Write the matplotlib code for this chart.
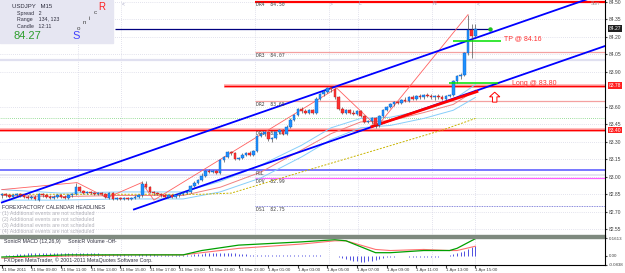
import matplotlib
matplotlib.use("Agg")
import matplotlib.pyplot as plt
import matplotlib.transforms as mtrans
import numpy as np

plt.rcParams["font.family"] = ["Liberation Sans", "DejaVu Sans"]

W, H = 625, 273
PXB = 3.7  # pixels per bar

# ---------------- data ----------------
opens = [82.84,82.85,82.84,82.83,82.84,82.85,82.84,82.83,82.82,82.83,82.80,82.85,82.84,82.83,82.82,82.83,82.84,82.83,82.82,82.84,
         82.85,82.91,82.88,82.86,82.87,82.86,82.85,82.86,82.85,82.82,82.86,82.81,82.82,82.81,82.82,82.81,82.82,82.83,82.84,82.94,
         82.91,82.87,82.86,82.85,82.84,82.83,82.84,82.83,82.84,82.85,82.86,82.87,82.92,82.95,82.97,83.01,83.05,83.04,83.05,83.03,
         83.14,83.17,83.21,83.20,83.15,83.16,83.19,83.20,83.19,83.22,83.35,83.37,83.38,83.32,83.33,83.38,83.40,83.37,83.43,83.49,
         83.53,83.58,83.56,83.55,83.57,83.55,83.67,83.71,83.73,83.76,83.75,83.68,83.58,83.55,83.57,83.55,83.54,83.56,83.52,83.47,
         83.48,83.50,83.44,83.52,83.57,83.60,83.62,83.64,83.63,83.66,83.65,83.68,83.67,83.69,83.68,83.70,83.69,83.68,83.69,83.68,
         83.67,83.69,83.70,83.82,83.86,83.87,84.06,84.26,84.21]
highs = [82.86,82.86,82.85,82.85,82.86,82.86,82.85,82.84,82.84,82.84,82.86,82.86,82.85,82.84,82.84,82.85,82.85,82.84,82.85,82.86,
         82.95,82.92,82.89,82.88,82.88,82.87,82.87,82.87,82.86,82.87,82.87,82.83,82.83,82.83,82.83,82.83,82.84,82.85,82.96,82.96,
         82.92,82.88,82.87,82.86,82.85,82.85,82.85,82.84,82.86,82.87,82.88,82.93,82.96,82.98,83.03,83.06,83.07,83.06,83.06,83.15,
         83.18,83.22,83.22,83.21,83.17,83.20,83.21,83.22,83.23,83.36,83.38,83.39,83.39,83.34,83.39,83.41,83.41,83.44,83.50,83.54,
         83.59,83.60,83.58,83.58,83.58,83.68,83.72,83.74,83.77,83.78,83.76,83.69,83.60,83.58,83.58,83.57,83.57,83.57,83.53,83.49,
         83.51,83.51,83.53,83.58,83.61,83.63,83.65,83.65,83.67,83.68,83.69,83.70,83.70,83.71,83.71,83.72,83.71,83.70,83.71,83.70,
         83.70,83.71,83.83,83.87,83.89,84.07,84.39,84.31,84.31]
lows = [82.82,82.83,82.82,82.82,82.83,82.83,82.82,82.81,82.81,82.80,82.79,82.83,82.82,82.81,82.81,82.82,82.82,82.81,82.81,82.83,
        82.84,82.87,82.85,82.85,82.85,82.84,82.84,82.84,82.82,82.81,82.80,82.80,82.80,82.80,82.80,82.80,82.81,82.82,82.83,82.90,
        82.86,82.84,82.84,82.83,82.82,82.82,82.82,82.82,82.83,82.84,82.85,82.86,82.91,82.94,82.96,83.00,83.03,83.03,83.02,83.02,
        83.13,83.16,83.19,83.14,83.14,83.15,83.18,83.18,83.18,83.21,83.34,83.35,83.31,83.30,83.32,83.37,83.36,83.36,83.42,83.48,
        83.52,83.55,83.54,83.54,83.54,83.54,83.66,83.69,83.72,83.73,83.67,83.57,83.54,83.54,83.54,83.53,83.53,83.51,83.46,83.46,
        83.45,83.42,83.43,83.51,83.56,83.59,83.61,83.62,83.62,83.64,83.64,83.66,83.66,83.67,83.67,83.68,83.67,83.66,83.67,83.66,
        83.66,83.68,83.69,83.80,83.84,83.86,84.04,84.02,84.20]
closes = [82.85,82.84,82.83,82.84,82.85,82.84,82.83,82.82,82.83,82.81,82.85,82.84,82.83,82.82,82.83,82.84,82.83,82.82,82.84,82.85,
          82.91,82.88,82.86,82.87,82.86,82.85,82.86,82.85,82.83,82.86,82.81,82.82,82.81,82.82,82.81,82.82,82.83,82.84,82.94,82.91,
          82.87,82.86,82.85,82.84,82.83,82.84,82.83,82.84,82.85,82.86,82.87,82.92,82.95,82.97,83.01,83.05,83.04,83.05,83.03,83.14,
          83.17,83.21,83.20,83.15,83.16,83.19,83.20,83.19,83.22,83.35,83.37,83.38,83.32,83.33,83.38,83.40,83.37,83.43,83.49,83.53,
          83.58,83.56,83.55,83.57,83.55,83.67,83.71,83.73,83.76,83.75,83.68,83.58,83.55,83.57,83.55,83.54,83.56,83.52,83.47,83.48,
          83.50,83.44,83.52,83.57,83.60,83.62,83.64,83.63,83.66,83.65,83.68,83.67,83.69,83.68,83.70,83.69,83.68,83.69,83.68,83.67,
          83.69,83.70,83.82,83.86,83.87,84.06,84.26,84.21,84.27]

# moving averages (bar index, price)
ma_x = [0, 16, 32, 49, 59, 70, 81, 89, 97, 105, 114, 122, 128]
ma_hi = [82.89, 82.86, 82.87, 82.87, 82.96, 83.10, 83.27, 83.42, 83.50, 83.51, 83.57, 83.66, 83.79]
ma_lo = [82.80, 82.80, 82.81, 82.81, 82.87, 82.99, 83.17, 83.32, 83.42, 83.44, 83.50, 83.57, 83.68]
ma_cl = [82.84, 82.83, 82.84, 82.84, 82.91, 83.04, 83.23, 83.37, 83.47, 83.48, 83.55, 83.62, 83.74]
slow_x = [0, 27, 54, 62, 83, 99, 119, 128]
slow_ma = [82.85, 82.85, 82.85, 82.86, 83.06, 83.21, 83.40, 83.50]

# zigzag
zz_x = [0, 20.3, 28.4, 37.8, 41.1, 90.5, 101.4, 126]
zz_y = [82.89, 82.95, 82.82, 82.95, 82.80, 83.76, 83.43, 84.39]

# channel lines
ch_up_x = [0, 163.5]; ch_up_y = [82.78, 84.58]
ch_lo_x = [35.7, 163.5]; ch_lo_y = [82.72, 84.126]
tl_x = [100, 128.4]; tl_y = [83.43, 83.73]

# level lines
lv_dr4, lv_cur, lv_dr3, lv_band, lv_long, lv_dr2, lv_grn, lv_dr1 = 84.50, 84.27, 84.07, 84.00, 83.78, 83.65, 83.50, 83.40
lv_pgl, lv_dpv, lv_ds1 = 83.06, 82.99, 82.75
tp_price, entry_price = 84.16, 83.80

# MACD subwindow
hist = [0.00,0.01,0.01,0.01,0.02,0.02,0.02,0.03,0.03,0.03,0.03,0.03,0.03,0.03,0.03,0.03,0.03,0.03,0.03,0.03,
        0.03,0.03,0.03,0.03,0.03,0.03,0.03,0.02,0.02,0.02,0.02,0.02,0.02,0.02,0.01,0.01,0.01,0.02,0.02,0.02,
        0.02,0.02,0.01,0.01,0.01,0.01,0.01,0.01,0.01,0.01,0.01,0.01,0.02,0.02,0.02,0.03,0.03,0.03,0.03,0.03,
        0.03,0.03,0.03,0.03,0.02,0.02,0.02,0.01,0.01,0.01,0.01,0.01,0.01,0.01,0.01,0.01,0.01,0.01,0.01,0.01,
        0.01,0.01,0.01,0.01,0.01,0.01,0.01,0.00,0.00,0.00,0.00,-0.01,-0.02,-0.03,-0.04,-0.05,-0.05,-0.06,-0.06,-0.05,
        -0.05,-0.04,-0.03,-0.02,-0.01,-0.01,-0.01,0.00,0.00,0.00,-0.01,-0.01,-0.01,-0.01,-0.01,-0.01,-0.01,-0.01,-0.01,0.00,
        0.00,0.01,0.02,0.03,0.04,0.05,0.06,0.08,0.09]
macd_x = [0, 9, 18, 35, 49, 54, 64, 81, 90, 93, 101, 105, 114, 121, 123, 128]
macd_main = [-0.01, 0.00, 0.01, 0.01, 0.01, 0.05, 0.10, 0.13, 0.15, 0.14, 0.03, 0.03, 0.05, 0.05, 0.07, 0.16]
macd_sig = [-0.02, -0.01, 0.00, 0.01, 0.01, 0.03, 0.07, 0.11, 0.14, 0.14, 0.06, 0.05, 0.06, 0.05, 0.05, 0.09]

time_labels = ["31 Mar 2011", "31 Mar 09:00", "31 Mar 11:00", "31 Mar 13:00", "31 Mar 15:00", "31 Mar 17:00",
               "31 Mar 19:00", "31 Mar 21:00", "31 Mar 23:00", "1 Apr 01:00", "1 Apr 03:00", "1 Apr 05:00",
               "1 Apr 07:00", "1 Apr 09:00", "1 Apr 11:00", "1 Apr 13:00", "1 Apr 15:00"]
price_ticks = [84.50, 84.35, 84.20, 84.05, 83.90, 83.60, 83.45, 83.30, 83.15, 83.00, 82.85, 82.70, 82.55]
sep_bars = [20.5, 32.2, 68.4, 88.4, 96.2, 116.2, 128]
sep_marks = ["", "<", "", ">", "L", "N", "<"]

# ---------------- figure ----------------
fig = plt.figure(figsize=(W/100, H/100), dpi=100)
fig.patch.set_facecolor("white")

def fy(py):
    return 1 - py / H

main_bot, main_top = 235, 0
sub_top, sub_bot = 237.5, 265
ax = fig.add_axes([0, fy(main_bot), 605/W, (main_bot-main_top)/H])
ax2 = fig.add_axes([0, fy(sub_bot), 605/W, (sub_bot-sub_top)/H])
xmax = 605 / PXB
for a in (ax, ax2):
    a.set_xlim(-0.5, xmax - 0.5)
    a.set_facecolor("white")
    for s in a.spines.values():
        s.set_visible(False)
ax.set_ylim(82.501, 84.515)
ax2.set_ylim(-0.0834, 0.1705)

FS = 3.6

# grid
for p in price_ticks:
    ax.axhline(p, color="#c8c8dc", lw=0.5, ls=(0, (1, 2)), zorder=0)
for b in sep_bars:
    ax.axvline(b, color="#c8c8dc", lw=0.5, ls=(0, (1, 2)), zorder=0)
    ax2.axvline(b, color="#c8c8dc", lw=0.5, ls=(0, (1, 2)), zorder=0)

# level lines
ax.hlines(lv_dr4, 68.4, xmax, color="#ff0000", lw=1.6, zorder=2)
ax.hlines(lv_band, -1, xmax, color="#e0e0f0", lw=1.6, zorder=1)
ax.hlines(lv_dr3, 68.4, xmax, color="#f4a0a0", lw=0.9, zorder=2)
ax.hlines(lv_dr2, 68.4, xmax, color="#f4a0a0", lw=0.9, zorder=2)
ax.hlines(lv_long, 60, xmax, color="#ffb0b0", lw=2.6, zorder=2)
ax.hlines(lv_long, 60, xmax, color="#ff0000", lw=1.0, zorder=2)
ax.hlines(lv_grn, -1, xmax, color="#40c040", lw=0.5, ls=(0, (1, 2)), zorder=1)
ax.hlines(lv_dr1, -1, xmax, color="#ffb0b0", lw=2.6, zorder=2)
ax.hlines(lv_dr1, -1, xmax, color="#ff0000", lw=1.0, zorder=2)
ax.hlines(lv_pgl, -1, xmax, color="#6060ff", lw=1.2, zorder=2)
ax.hlines(lv_pgl - 0.045, -1, xmax, color="#e0e0f0", lw=1.2, zorder=1)
ax.hlines(lv_dpv, 68.4, xmax, color="#ff60ff", lw=0.9, zorder=2)
ax.hlines(lv_ds1, 68.4, xmax, color="#6060d0", lw=0.6, ls=(0, (1, 1)), zorder=2)
ax.hlines(lv_cur, 30.5, 132, color="#000080", lw=0.9, zorder=3)
ax.plot([132], [lv_cur], "o", color="#20c020", ms=2.2, zorder=4)

lab = dict(fontsize=3.4, family="DejaVu Sans Mono", color="#404040", va="top", ha="left", zorder=5)
ax.text(68.6, lv_dr4 - 0.005, "DR4  84.50", **lab)
ax.text(68.6, lv_dr3 - 0.01, "DR3  84.07", **lab)
ax.text(68.6, lv_dr2 - 0.01, "DR2  83.65", **lab)
ax.text(68.6, lv_dr1 - 0.01, "DR1  83.41", **lab)
ax.text(68.6, lv_pgl - 0.01, "PGL", **lab)
ax.text(68.6, lv_dpv - 0.01, "DPV  82.99", **lab)
ax.text(68.6, lv_ds1 - 0.01, "DS1  82.75", **lab)
for b, m in zip(sep_bars, sep_marks):
    ax.text(b + 0.3, 84.505, m, fontsize=FS, color="#a0a0c0", va="top", ha="left")
ax.text(161.5, 84.505, "Sun", fontsize=FS, color="#a0a0a0", va="top", ha="right")

# moving averages
ax.plot(ma_x, ma_hi, color="#87cefa", lw=0.7, zorder=3)
ax.plot(ma_x, ma_lo, color="#87cefa", lw=0.7, zorder=3)
ax.plot(ma_x, ma_cl, color="#f08080", lw=0.7, zorder=3)
ax.plot(slow_x, slow_ma, color="#c8b400", lw=0.7, ls=(0, (2, 1.5)), zorder=3)

# zigzag
ax.plot(zz_x, zz_y, color="#ff6060", lw=0.6, zorder=3)

# channel & trendline
ax.plot(ch_up_x, ch_up_y, color="#0000ff", lw=1.3, zorder=4)
ax.plot(ch_lo_x, ch_lo_y, color="#0000ff", lw=1.3, zorder=4)
ax.plot(tl_x, tl_y, color="#ff0000", lw=2.0, zorder=4)

# candles
n = len(closes)
xs = np.arange(n)
o = np.array(opens); c = np.array(closes); h = np.array(highs); l = np.array(lows)
up = c >= o
ax.vlines(xs, l, h, color="#505050", lw=0.5, zorder=5)
bot = np.minimum(o, c)
hgt = np.maximum(np.abs(c - o), 0.004)
ax.bar(xs[up], hgt[up], bottom=bot[up], width=0.72, color="#1e90ff", edgecolor="#1060c0", lw=0.3, zorder=6)
ax.bar(xs[~up], hgt[~up], bottom=bot[~up], width=0.72, color="#ff3030", edgecolor="#c02020", lw=0.3, zorder=6)

# trade annotations
ax.hlines(tp_price, 121.9, 135, color="#00e000", lw=1.1, zorder=6)
ax.hlines(entry_price, 120.8, 134, color="#00e000", lw=1.1, zorder=6)
ax.text(135.6, tp_price + 0.02, "TP @ 84.16", fontsize=5, color="#ff3030", va="center", ha="left")
ax.text(137.8, entry_price, "Long @ 83.80", fontsize=5, color="#ff3030", va="center", ha="left")
arrow_x = [132.6, 133.8, 133.8, 134.6, 133.2, 131.8, 132.6, 132.6]
arrow_y = [83.64, 83.64, 83.685, 83.685, 83.725, 83.685, 83.685, 83.64]
ax.fill(arrow_x, arrow_y, facecolor="white", edgecolor="#ff0000", lw=0.7, zorder=6)

# right price axis
ax.yaxis.tick_right()
ax.set_yticks(price_ticks)
ax.set_yticklabels([f"{p:.2f}" for p in price_ticks])
ax.tick_params(axis="y", labelsize=FS, length=1.5, pad=1.5, colors="#404040")
ax.set_xticks([])
blend = mtrans.blended_transform_factory(ax.transAxes, ax.transData)
ax.text(1.006, lv_cur, "84.27", transform=blend, fontsize=FS, color="white", va="center", ha="left",
        bbox=dict(facecolor="#202020", edgecolor="none", pad=0.6), clip_on=False, zorder=10)
ax.text(1.006, lv_long, "83.78", transform=blend, fontsize=FS, color="white", va="center", ha="left",
        bbox=dict(facecolor="#ff2020", edgecolor="none", pad=0.6), clip_on=False, zorder=10)
ax.text(1.006, lv_dr1, "83.40", transform=blend, fontsize=FS, color="white", va="center", ha="left",
        bbox=dict(facecolor="#ff2020", edgecolor="none", pad=0.6), clip_on=False, zorder=10)

# MACD subwindow
ax2.vlines(xs, 0, hist, color="#5050e0", lw=0.7, zorder=2)
ax2.plot(macd_x, macd_sig, color="#ff7070", lw=0.8, zorder=3)
ax2.plot(macd_x, macd_main, color="#00a000", lw=0.9, zorder=4)
ax2.yaxis.tick_right()
ax2.set_yticks([0.1613, 0.0, -0.0838])
ax2.set_yticklabels(["0.1613", "0.00", "-0.0838"])
ax2.tick_params(axis="y", labelsize=3.2, length=1.5, pad=1, colors="#404040")
tick_bars = np.arange(len(time_labels)) * 8
ax2.set_xticks(tick_bars)
ax2.set_xticklabels(time_labels)
ax2.tick_params(axis="x", labelsize=3.2, length=2, pad=0.5, colors="#404040")
for t in ax2.get_xticklabels():
    t.set_ha("left")

# overlay for frames and pixel text
ov = fig.add_axes([0, 0, 1, 1], facecolor="none")
ov.set_xlim(0, W); ov.set_ylim(H, 0); ov.axis("off")
ov.add_patch(plt.Rectangle((0, 235), 605, 2.5, color="#7f8a7f", zorder=1))
ov.plot([605, 605], [0, 265], color="black", lw=0.8)
ov.plot([0, 605], [265, 265], color="black", lw=0.8)
ov.add_patch(plt.Rectangle((0, 0), 113, 43, color="#e6e6f2", zorder=1))
ov.text(12, 6, "USDJPY   M15", fontsize=4.3, color="#303040", va="center")
ov.text(17, 13.5, "Spread   2", fontsize=3.8, color="#303040", va="center")
ov.text(17, 20, "Range    134, 123", fontsize=3.8, color="#303040", va="center")
ov.text(17, 26.5, "Candle   12:11", fontsize=3.8, color="#303040", va="center")
ov.text(14, 36, "84.27", fontsize=8, color="#2e9e2e", va="center")
ov.text(98, 6.5, "R", fontsize=7, color="#ff2020", va="center")
ov.text(94, 13, "c", fontsize=4.5, color="#404040", va="center")
ov.text(89, 18, "i", fontsize=4.5, color="#404040", va="center")
ov.text(83, 23, "n", fontsize=4.5, color="#404040", va="center")
ov.text(77, 28.5, "o", fontsize=4.5, color="#404040", va="center")
ov.text(72, 36, "S", fontsize=8, color="#4040ff", va="center")
ov.text(2, 207.5, "FOREXFACTORY CALENDAR HEADLINES", fontsize=3.8, color="#303040", va="center")
for i, yy in enumerate([213.5, 219.5, 225.5, 231.5]):
    ov.text(2, yy, f"({i+1}) Additional events are not scheduled", fontsize=3.8, color="#b0b0b8", va="center")
ov.text(4, 241, "SonicR MACD (12,26,9)     SonicR Volume -Off-", fontsize=3.8, color="#303040", va="center")
ov.text(4, 260, "FXOpen MetaTrader, © 2001-2011 MetaQuotes Software Corp.", fontsize=3.8, color="#303040", va="center")

fig.savefig("out.png", dpi=100)
